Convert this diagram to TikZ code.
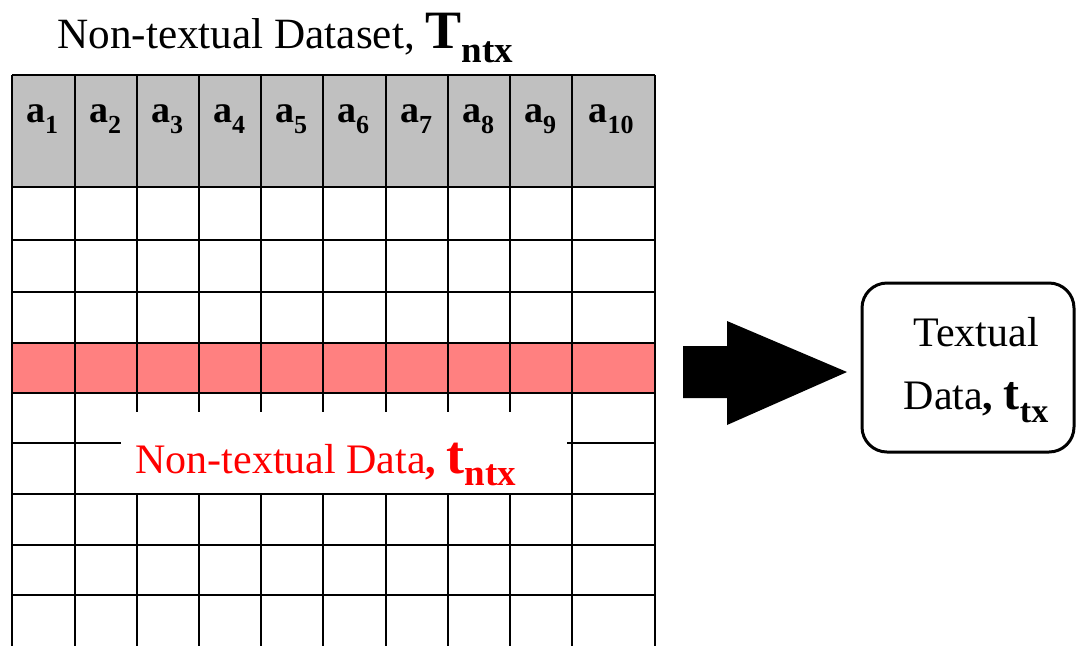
\documentclass[tikz,border=0pt]{standalone}
\usepackage{fontspec}
\setmainfont{Liberation Serif}
\definecolor{hdrgray}{HTML}{C0C0C0}
\definecolor{rowred}{HTML}{FF8080}
\definecolor{txtred}{HTML}{FF0000}
\newcommand{\sbs}[3]{\raisebox{#1}{\fontsize{#2}{#2}\selectfont\bfseries #3}}
\begin{document}
\begin{tikzpicture}[x=0.5pt,y=-0.5pt,
  gridline/.style={line width=1pt, black},
  hdr/.style={anchor=base, inner sep=0pt, font=\fontsize{19}{23}\selectfont},
  txt/.style={inner sep=0pt, font=\fontsize{21}{25}\selectfont},
  box/.style={draw, line width=1.5pt, rounded corners=12.5pt, minimum width=106pt, minimum height=84.5pt, align=center, inner sep=0pt, font=\fontsize{21}{31.5}\selectfont}]
\useasboundingbox (0,0) rectangle (1077,645);
% fills
\fill[hdrgray] (12,75) rectangle (655,187);
\fill[rowred] (12,343) rectangle (655,393);
% grid
\foreach \x in {12,75,137,199,261,323,386,448,510,572,655}
  \draw[gridline] (\x,75) -- (\x,650);
\foreach \y in {75,187,240,292,343,393,443,494,545,595}
  \draw[gridline] (12,\y) -- (655,\y);
% header labels
\foreach \i/\x in {1/42,2/105,3/167,4/229,5/291,6/353,7/416,8/478,9/540,10/611}
  \node[hdr] (a\i) at (\x,122) {\textbf{a}\sbs{-5.5pt}{13}{\i}};
% title
\node[txt, anchor=base west, font=\fontsize{21.6}{25}\selectfont] (title) at (57,48) {Non-textual Dataset, \fontsize{27}{30}\selectfont\textbf{T}\sbs{-7pt}{18.5}{ntx}};
% label background and red label
\fill[white] (121,412) rectangle (567,493);
\node[txt, anchor=base west, text=txtred] (tntx) at (135,473) {Non-textual Data\textbf{,} \fontsize{27}{30}\selectfont\textbf{t}\sbs{-6pt}{18.5}{ntx}};
% arrow
\fill[black] (683,346) -- (727,346) -- (727,321) -- (847,372) -- (727,425) -- (727,398) -- (683,398) -- cycle;
% box
\node[box] (ttx) at (968,367.5) {\hspace*{8pt}\rule{0pt}{17.5pt}Textual\\\hspace*{8pt}Data\textbf{,} {\fontsize{24}{26}\selectfont\textbf{t}\sbs{-6.5pt}{17}{tx}}};
\end{tikzpicture}
\end{document}
